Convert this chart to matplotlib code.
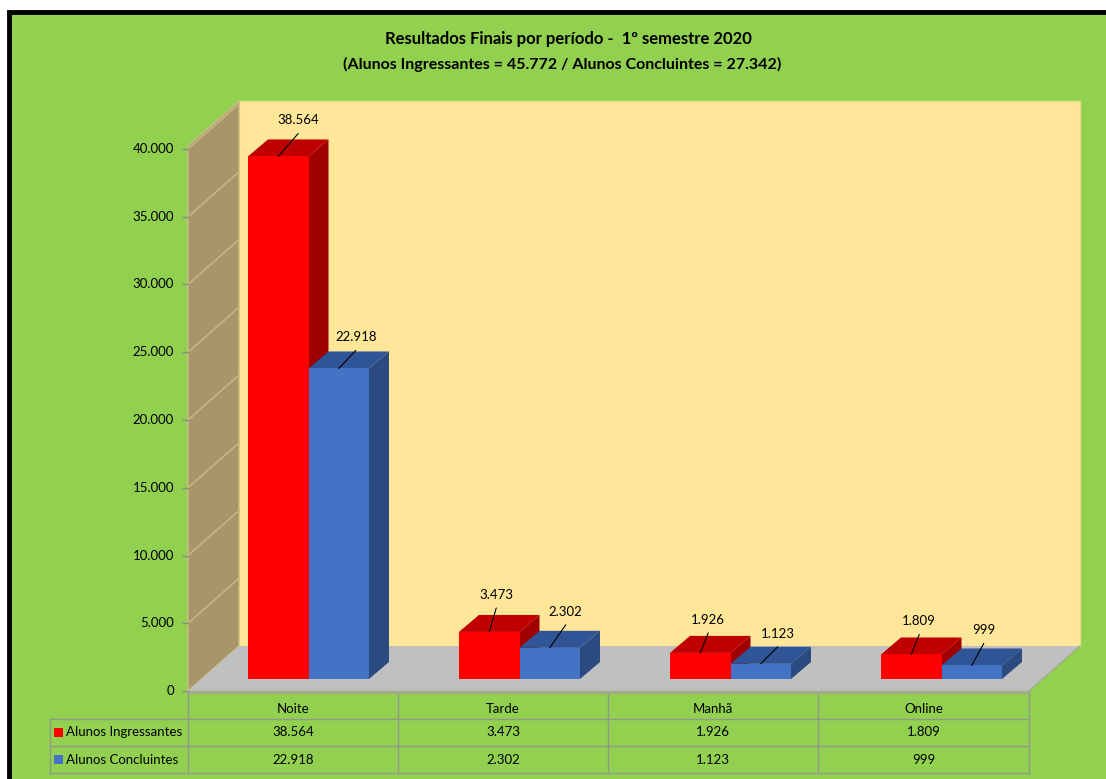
import matplotlib
matplotlib.use('Agg')
import matplotlib.pyplot as plt
from matplotlib.patches import Polygon, Rectangle

periodos = ['Noite', 'Tarde', 'Manhã', 'Online']
ingressantes = [38564, 3473, 1926, 1809]
concluintes = [22918, 2302, 1123, 999]
rotulos_ingr = ['38.564', '3.473', '1.926', '1.809']
rotulos_conc = ['22.918', '2.302', '1.123', '999']
ticks = [0, 5000, 10000, 15000, 20000, 25000, 30000, 35000, 40000]
tick_labels = ['0', '5.000', '10.000', '15.000', '20.000', '25.000', '30.000', '35.000', '40.000']
nome_ingr = 'Alunos Ingressantes'
nome_conc = 'Alunos Concluintes'

W, H = 1106, 779
plt.rcParams['font.family'] = ['Lato', 'DejaVu Sans']

fig = plt.figure(figsize=(W / 100, H / 100), dpi=100, facecolor='white')

# fundo em pixels
bg = fig.add_axes([0, 0, 1, 1])
bg.set_xlim(0, W)
bg.set_ylim(H, 0)
bg.axis('off')
bg.add_patch(Rectangle((9, 11.5), W, H, fc='#92d050', ec='black', lw=3.5))

# area do grafico: x em categorias, y em valores
X0, X1, Y0, Y1 = 188, 1029, 691, 149
ax = fig.add_axes([X0 / W, (H - Y0) / H, (X1 - X0) / W, (Y0 - Y1) / H])
ax.set_xlim(0, 4)
ax.set_ylim(0, 40000)
ax.axis('off')
px_x = 4 / (X1 - X0)
px_y = 40000 / (Y0 - Y1)


def dx(p):
    return p * px_x


def dy(p):
    return p * px_y


# paredes e piso
wx, wy = dx(51), dy(45)
top = 40000 + dy(3)
ax.add_patch(Polygon([(wx, wy), (4 + wx, wy), (4 + wx, top + wy), (wx, top + wy)],
                     fc='#ffe699', ec='#e8dc90', lw=1, clip_on=False, zorder=1))
ax.add_patch(Polygon([(0, 0), (wx, wy), (wx, top + wy), (0, top)],
                     fc='#a8966a', ec='#cdbf85', lw=1, clip_on=False, zorder=2))
ax.add_patch(Polygon([(0, 0), (4, 0), (4 + wx, wy), (wx, wy)],
                     fc='#c0c0c0', ec='none', clip_on=False, zorder=2))
ax.plot([0, 4], [-dy(1), -dy(1)], color='#a3ab88', lw=2.5, clip_on=False, zorder=3,
        solid_capstyle='butt')
ax.plot([4, 4 + wx], [0, wy], color='#a3ab88', lw=1, clip_on=False, zorder=3)
for t, lab in zip(ticks, tick_labels):
    if t > 0:
        ax.plot([0, wx], [t, t + wy], color='#c4b680', lw=1.2, clip_on=False, zorder=3)
    ax.plot([-dx(5), 0], [t, t], color='#8a8a8a', lw=1, clip_on=False, zorder=3)
    ax.text(-dx(14), t, lab, ha='right', va='center', fontsize=9.5, color='black')


def barra(x, w, v, frente, lado, topo, z):
    base = dy(12)
    ox, oy = dx(20), dy(17)
    yt = base + v
    ax.add_patch(Polygon([(x + w, base), (x + w + ox, base + oy), (x + w + ox, yt + oy), (x + w, yt)],
                         fc=lado, ec='none', clip_on=False, zorder=z))
    ax.add_patch(Polygon([(x, yt), (x + ox, yt + oy), (x + w + ox, yt + oy), (x + w, yt)],
                         fc=topo, ec='none', clip_on=False, zorder=z))
    ax.add_patch(Rectangle((x, base), w, v, fc=frente, ec='none', clip_on=False, zorder=z + 0.1))


# barras
larg = dx(60.5)
off_ingr = [(20, 36), (7, 37), (8, 33), (8, 33)]
off_conc = [(17, 31), (16, 36), (17, 30), (12, 35)]
for i in range(4):
    x1 = i + dx(60 + 0.75 * i)
    x2 = x1 + larg
    barra(x1, larg, ingressantes[i], '#ff0000', '#a00000', '#c00000', 4 + i)
    barra(x2, larg, concluintes[i], '#4472c4', '#2a4a80', '#2f5597', 4.5 + i)
    for x, v, lab, off in ((x1, ingressantes[i], rotulos_ingr[i], off_ingr[i]),
                           (x2, concluintes[i], rotulos_conc[i], off_conc[i])):
        ponto = (x + larg / 2, v + dy(12))
        ax.annotate(lab, xy=ponto, xytext=off, textcoords='offset pixels', ha='center', va='center',
                    fontsize=9.5, color='black', zorder=20, annotation_clip=False)
        ax.annotate('', xy=ponto, xytext=(off[0], off[1] - 13), textcoords='offset pixels',
                    arrowprops=dict(arrowstyle='-', color='black', lw=0.8, shrinkA=0, shrinkB=0),
                    zorder=20, annotation_clip=False)

# titulo
bg.text(568, 39, 'Resultados Finais por período -  1º semestre 2020', ha='center', va='center',
        fontsize=12, fontweight='bold', color='black')
bg.text(562, 64, '(Alunos Ingressantes = 45.772 / Alunos Concluintes = 27.342)', ha='center', va='center',
        fontsize=11.5, fontweight='bold', color='black')

# tabela de dados
grade = '#8f9a8a'
lin = [691, 719, 746, 773]
col = [188, 398, 608, 818, 1029]
for y in lin[1:]:
    bg.plot([50, 1029], [y, y], color=grade, lw=1)
for x in col:
    bg.plot([x, x], [lin[0], lin[-1]], color=grade, lw=1)
bg.plot([50, 50], [lin[1], lin[-1]], color=grade, lw=1)
for i in range(4):
    cx = (col[i] + col[i + 1]) / 2
    bg.text(cx, 709, periodos[i], ha='center', va='center', fontsize=9.5)
    bg.text(cx, 732, rotulos_ingr[i], ha='center', va='center', fontsize=9.5)
    bg.text(cx, 760, rotulos_conc[i], ha='center', va='center', fontsize=9.5)
bg.add_patch(Rectangle((54, 728), 9, 9, fc='#ff0000', ec='none'))
bg.add_patch(Rectangle((54, 755), 9, 9, fc='#4472c4', ec='none'))
bg.text(66, 732, nome_ingr, ha='left', va='center', fontsize=9.5)
bg.text(66, 760, nome_conc, ha='left', va='center', fontsize=9.5)

fig.savefig('out.png', dpi=100)
